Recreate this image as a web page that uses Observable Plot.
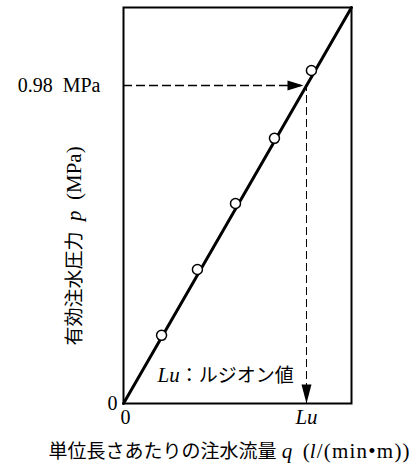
<!DOCTYPE html>
<html>
<head>
<meta charset="utf-8">
<script src="https://cdn.jsdelivr.net/npm/d3@7"></script>
<script src="https://cdn.jsdelivr.net/npm/@observablehq/plot@0.6"></script>
<style>
  html, body { margin: 0; padding: 0; background: #fff; }
</style>
</head>
<body>
<div id="chart"></div>
<script>
// Measured points (q in units where Lu = 1, p in MPa)
const qValues = [0.208, 0.404, 0.612, 0.825, 1.027];
const pValues = [0.210, 0.413, 0.616, 0.817, 1.026];
// Fitted straight line through origin
const fitQ = [0, 1.246];
const fitP = [0, 1.22];
// Reference values
const Lu = 1;
const pRef = 0.98;
// Tick labels
const xTickLabels = ["0", "Lu"];
const yTickLabels = ["0", "0.98\u00a0\u00a0MPa"];
// Texts
const xLabel = "単位長さあたりの注水流量 q (l/(min•m))";
const yLabel = "有効注水圧力 p (MPa)";
const noteLabel = "Lu：ルジオン値";

const points = qValues.map((q, i) => ({q, p: pValues[i]}));
const fit = fitQ.map((q, i) => ({q, p: fitP[i]}));

const arrowRight = {
  draw(ctx) { ctx.moveTo(-3, 0); ctx.lineTo(-19, -5); ctx.lineTo(-19, 5); ctx.closePath(); }
};
const arrowDown = {
  draw(ctx) { ctx.moveTo(0, 0); ctx.lineTo(-5, -19); ctx.lineTo(5, -19); ctx.closePath(); }
};

const serif = "'Liberation Serif', 'Noto Sans CJK JP', serif";

const chart = Plot.plot({
  width: 413,
  height: 470,
  marginLeft: 123,
  marginRight: 62,
  marginTop: 7,
  marginBottom: 67,
  style: {fontFamily: serif, fontSize: "19px", color: "black", background: "white"},
  x: {domain: [0, fitQ[1]]},
  y: {domain: [0, fitP[1]]},
  marks: [
    Plot.ruleY([pRef], {x1: 0, x2: Lu, stroke: "black", strokeWidth: 1.5, strokeDasharray: "9,4"}),
    Plot.ruleX([Lu], {y1: 0, y2: pRef, stroke: "black", strokeWidth: 1, strokeDasharray: "8,4"}),
    Plot.line(fit, {x: "q", y: "p", stroke: "black", strokeWidth: 3}),
    Plot.dot(points, {x: "q", y: "p", r: 5, fill: "white", stroke: "black", strokeWidth: 1.5}),
    Plot.dot([{q: Lu, p: pRef}], {x: "q", y: "p", symbol: arrowRight, fill: "black", r: 5}),
    Plot.dot([{q: Lu, p: 0}], {x: "q", y: "p", symbol: arrowDown, fill: "black", r: 5}),
    Plot.frame({stroke: "black", strokeWidth: 2}),
    Plot.axisX([0], {tickSize: 0, tickPadding: 6, dx: 2, fontSize: 20, tickFormat: () => xTickLabels[0], label: null}),
    Plot.axisX([Lu], {tickSize: 0, tickPadding: 6, fontSize: 21, fontStyle: "italic", tickFormat: () => xTickLabels[1], label: null}),
    Plot.axisY([0], {tickSize: 0, tickPadding: 6, fontSize: 20, tickFormat: () => yTickLabels[0], label: null}),
    Plot.axisY([pRef], {tickSize: 0, tickPadding: 23, fontSize: 20, tickFormat: () => yTickLabels[1], label: null}),
    Plot.text([yLabel], {frameAnchor: "bottom-left", text: d => d, rotate: -90, textAnchor: "start", lineAnchor: "middle", dx: -49, dy: -58, fontSize: 19}),
    Plot.text([xLabel], {frameAnchor: "bottom-left", text: d => d, textAnchor: "start", lineAnchor: "middle", dx: -75, dy: 48, fontSize: 19}),
    Plot.text([noteLabel], {frameAnchor: "bottom-left", text: d => d, textAnchor: "start", lineAnchor: "middle", dx: 34, dy: -28, fontSize: 19})
  ]
});

document.getElementById("chart").appendChild(chart);

// Mixed styling (italic variables, larger Latin glyphs) inside text elements
// each part: [string, italic, fontSize, letterSpacing]
const styled = new Map([
  [xLabel, [["単位長さあたりの注水流量", false, 19, 0], ["\u00a0", false, 21, 0], ["q", true, 21, 0], ["\u00a0\u00a0(", false, 21, 0], ["l", true, 21, 1.2], ["/(min•m))", false, 21, 1.2]]],
  [yLabel, [["有効注水圧力", false, 19, 0], ["\u00a0\u00a0", false, 21, 0], ["p", true, 21, 0], ["\u00a0\u00a0(MPa)", false, 21, 0]]],
  [noteLabel, [["Lu", true, 21, 0], ["：ルジオン値", false, 19, 0]]]
]);
chart.querySelectorAll("text").forEach(t => {
  const parts = styled.get(t.textContent);
  if (!parts) return;
  t.textContent = "";
  for (const [s, it, fs, ls] of parts) {
    const ts = document.createElementNS("http://www.w3.org/2000/svg", "tspan");
    ts.textContent = s;
    ts.setAttribute("font-style", it ? "italic" : "normal");
    ts.setAttribute("font-size", fs);
    if (ls) ts.setAttribute("letter-spacing", ls);
    t.appendChild(ts);
  }
});
</script>
</body>
</html>
